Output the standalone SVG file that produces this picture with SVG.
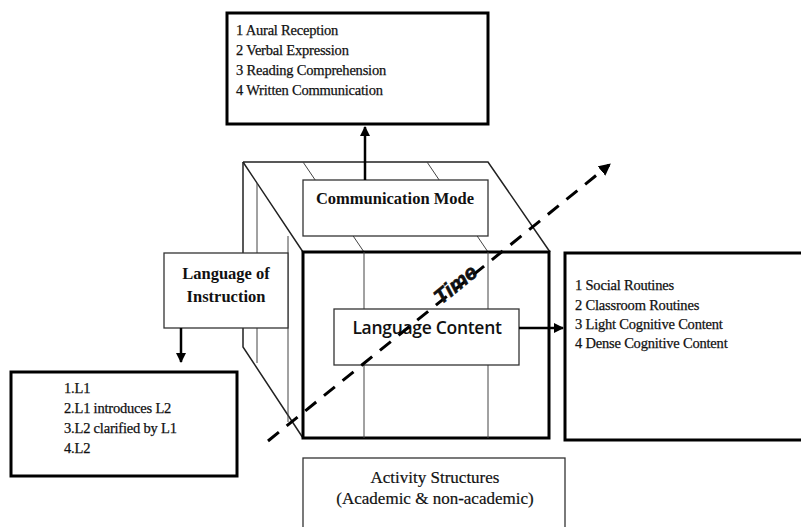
<svg xmlns="http://www.w3.org/2000/svg" width="801" height="527" viewBox="0 0 801 527">
<defs>
<style>
.thick{fill:#fff;stroke:#000;stroke-width:3}
.thin{fill:#fff;stroke:#333;stroke-width:1.3}
.ln{fill:none;stroke:#222;stroke-width:1.5}
.lnl{fill:none;stroke:#444;stroke-width:1}
.t{font-family:"Liberation Serif","Times New Roman",serif;font-size:14.5px;fill:#111;stroke:#111;stroke-width:0.25;letter-spacing:-0.2px}
.tb{font-family:"Liberation Serif","Times New Roman",serif;font-size:16.5px;font-weight:bold;fill:#111}
.ta{font-family:"Liberation Serif","Times New Roman",serif;font-size:17px;fill:#111;stroke:#111;stroke-width:0.2}
.conn{fill:none;stroke:#000;stroke-width:2.5}
</style>
<marker id="ah" viewBox="0 0 10 10" refX="9" refY="5" markerWidth="4" markerHeight="4" orient="auto" markerUnits="strokeWidth">
<path d="M0,0 L10,5 L0,10 z" fill="#000"/>
</marker>
<marker id="ah2" viewBox="0 0 10 10" refX="8" refY="5" markerWidth="4" markerHeight="4" orient="auto" markerUnits="strokeWidth">
<path d="M0,0 L10,5 L0,10 z" fill="#000"/>
</marker>
</defs>
<rect width="801" height="527" fill="#fff"/>

<g id="cube">
<path class="ln" d="M243,162 L488,162 L550,252 M243,162 L303,252"/>
<path class="lnl" d="M303,162 L364,252 M427,162 L488,252"/>
<path class="ln" d="M243,162 L243,347 L303,438"/>
<path class="lnl" d="M257,183 L257,363 M288,236 L288,422"/>
<rect class="thick" x="303" y="252" width="246" height="186"/>
<path class="lnl" d="M364,252 L364,438 M488,252 L488,438"/>
</g>

<g id="communication-mode">
<rect class="thin" x="303" y="180" width="185" height="56"/>
<text class="tb" x="395" y="204" text-anchor="middle">Communication Mode</text>
</g>

<g id="language-of-instruction">
<rect class="thin" x="164" y="253" width="124" height="75"/>
<text class="tb" x="226" y="279" text-anchor="middle">Language of</text>
<text class="tb" x="226" y="302" text-anchor="middle">Instruction</text>
</g>

<g id="language-content">
<rect class="thin" x="334" y="309" width="185" height="56"/>
<text x="427" y="334" text-anchor="middle" font-family="'Open Sans','Liberation Sans',sans-serif" font-size="17.5" font-weight="600" fill="#111" letter-spacing="-0.3">Language Content</text>
</g>

<g id="modes-box">
<rect class="thick" x="227" y="13" width="261" height="111"/>
<text class="t" x="236" y="35">1 Aural Reception</text>
<text class="t" x="236" y="55">2 Verbal Expression</text>
<text class="t" x="236" y="75">3 Reading Comprehension</text>
<text class="t" x="236" y="95">4 Written Communication</text>
</g>

<g id="content-box">
<rect class="thick" x="565" y="253" width="240" height="187"/>
<text class="t" x="575" y="290">1 Social Routines</text>
<text class="t" x="575" y="310">2 Classroom Routines</text>
<text class="t" x="575" y="329">3 Light Cognitive Content</text>
<text class="t" x="575" y="348">4 Dense Cognitive Content</text>
</g>

<g id="instruction-box">
<rect class="thick" x="11" y="372" width="226" height="104"/>
<text class="t" x="64" y="393">1.L1</text>
<text class="t" x="64" y="413">2.L1 introduces L2</text>
<text class="t" x="64" y="433">3.L2 clarified by L1</text>
<text class="t" x="64" y="453">4.L2</text>
</g>

<g id="activity-structures">
<rect class="thin" x="303" y="458" width="262" height="80"/>
<text class="ta" x="435" y="483" text-anchor="middle">Activity Structures</text>
<text class="ta" x="435" y="504" text-anchor="middle">(Academic &amp; non-academic)</text>
</g>

<g id="connectors">
<line class="conn" x1="365" y1="180" x2="365" y2="127" marker-end="url(#ah)"/>
<line class="conn" x1="181" y1="328" x2="181" y2="362" marker-end="url(#ah)"/>
<line class="conn" x1="519" y1="328" x2="563" y2="328" marker-end="url(#ah)"/>
<line x1="268" y1="441" x2="609" y2="165" stroke="#000" stroke-width="3" stroke-dasharray="14 10" marker-end="url(#ah2)"/>
<text x="0" y="0" transform="translate(460,290) rotate(-39)" text-anchor="middle" font-family="'Liberation Sans',Arial,sans-serif" font-size="21" font-weight="bold" font-style="italic" fill="#111" stroke="#111" stroke-width="0.6">Time</text>
</g>
</svg>
